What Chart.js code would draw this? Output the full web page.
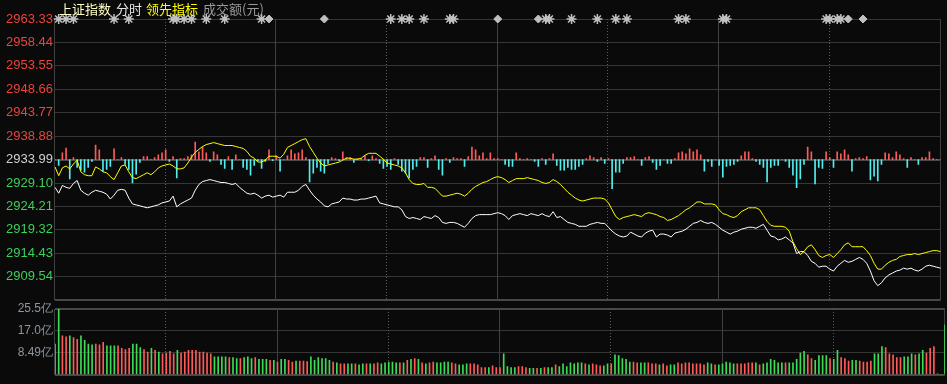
<!DOCTYPE html>
<html>
<head>
<meta charset="utf-8">
<script src="https://cdn.jsdelivr.net/npm/chart.js@4.4.1/dist/chart.umd.min.js"></script>
<style>
  html, body { margin: 0; padding: 0; background: #0a0a0a; }
  #wrap { position: relative; width: 947px; height: 384px; overflow: hidden; background: #0a0a0a; }
  #priceChart { position: absolute; left: 0; top: 0; }
  #volChart { position: absolute; left: 0; top: 296px; }
  .hdr { position: absolute; top: 0; font: 13px "Noto Sans CJK SC", sans-serif; line-height: 17px; white-space: nowrap; }
</style>
</head>
<body>
<div id="wrap">
  <canvas id="priceChart" width="947" height="310"></canvas>
  <canvas id="volChart" width="947" height="88"></canvas>
  <span class="hdr" style="left:59px;color:#ffffc8">上证指数</span>
  <span class="hdr" style="left:116px;color:#e6e6e6">分时</span>
  <span class="hdr" style="left:146px;color:#ffff00">领先指标</span>
  <span class="hdr" style="left:203px;color:#9a9a9a">成交额(元)</span>
</div>
<script>
// previous close and the fixed tick ladder of the price pane
const prevClose = 2933.99;
const priceTicks = [2963.33, 2958.44, 2953.55, 2948.66, 2943.77, 2938.88, 2933.99,
                    2929.10, 2924.21, 2919.32, 2914.43, 2909.54, 2904.65];
const volTicks = [0, 8.49, 16.98, 25.47];
const volTickLabels = ['', '8.49亿', '17.0亿', '25.5亿'];

// 上证指数 per minute
const indexLine = [
  2928.20,2926.98,2928.60,2928.20,2927.99,2929.01,2929.62,2927.59,2926.98,2926.57,
  2927.18,2927.59,2927.38,2927.18,2926.77,2925.76,2926.57,2927.59,2927.79,2927.59,
  2925.96,2924.74,2924.54,2924.34,2924.13,2923.93,2924.13,2924.34,2924.54,2924.95,
  2925.15,2925.35,2926.37,2924.13,2924.74,2925.15,2925.55,2925.96,2927.59,2928.80,
  2929.41,2929.62,2929.82,2929.62,2929.41,2929.21,2929.21,2929.01,2928.80,2929.01,
  2928.20,2927.59,2926.98,2926.77,2926.98,2926.57,2925.96,2926.37,2926.57,2926.16,
  2926.37,2926.57,2926.16,2927.18,2927.18,2927.18,2927.59,2928.40,2928.80,2927.59,
  2926.57,2925.76,2925.15,2924.34,2924.13,2924.74,2924.95,2925.15,2925.96,2925.76,
  2925.76,2925.55,2925.55,2925.76,2925.76,2925.96,2926.16,2926.37,2924.95,2924.74,
  2924.54,2924.34,2924.13,2924.13,2923.52,2922.10,2921.70,2921.90,2921.70,2921.49,
  2922.10,2921.90,2921.70,2922.30,2921.90,2920.88,2920.68,2920.88,2920.88,2920.68,
  2920.27,2919.87,2920.68,2921.70,2922.30,2922.51,2922.51,2922.51,2922.51,2922.71,
  2922.91,2922.71,2922.30,2921.49,2922.30,2922.51,2922.71,2922.51,2922.30,2922.71,
  2922.51,2922.30,2922.71,2922.30,2922.10,2923.12,2921.90,2922.10,2921.49,2920.88,
  2920.68,2920.48,2920.07,2920.07,2920.07,2920.48,2920.68,2920.88,2920.68,2920.68,
  2919.87,2919.06,2918.45,2918.04,2917.84,2918.04,2918.85,2918.45,2918.04,2917.84,
  2918.65,2919.06,2919.26,2917.84,2918.45,2918.45,2918.24,2917.84,2918.65,2918.85,
  2919.06,2919.46,2920.07,2920.68,2920.88,2921.29,2920.88,2920.68,2920.88,2920.48,
  2919.87,2919.26,2918.85,2918.45,2918.85,2919.06,2919.46,2919.66,2919.87,2919.87,
  2919.66,2920.07,2920.48,2919.26,2918.04,2917.84,2917.23,2917.43,2917.84,2917.23,
  2916.62,2914.38,2914.79,2914.79,2913.98,2912.76,2912.35,2911.54,2911.74,2911.74,
  2911.13,2910.73,2911.74,2912.35,2912.96,2912.56,2912.76,2913.17,2913.57,2913.17,
  2912.35,2910.73,2908.70,2907.68,2908.29,2909.31,2909.92,2910.32,2910.73,2910.93,
  2911.34,2911.13,2911.34,2910.93,2910.73,2911.13,2911.74,2911.95,2911.74,2911.54,
  2911.34
];

// 领先指标 per minute
const leadLine = [
  2932.46,2930.63,2932.26,2932.66,2932.05,2933.07,2933.88,2931.44,2930.84,2930.63,
  2930.63,2932.46,2932.05,2931.44,2931.24,2930.43,2929.82,2931.24,2932.66,2932.87,
  2931.44,2930.23,2930.02,2930.43,2930.84,2931.24,2930.84,2931.44,2932.26,2932.66,
  2932.87,2933.07,2932.66,2932.05,2932.05,2932.26,2933.27,2934.49,2935.51,2936.12,
  2936.72,2937.13,2937.33,2937.54,2937.33,2937.13,2936.93,2936.93,2936.93,2936.72,
  2936.52,2936.32,2935.71,2934.69,2934.29,2933.48,2933.48,2933.88,2934.69,2934.69,
  2934.69,2934.29,2935.10,2936.52,2936.93,2937.33,2937.74,2938.15,2938.35,2936.72,
  2935.51,2934.29,2933.27,2932.66,2932.87,2933.07,2933.27,2933.48,2933.88,2934.29,
  2934.29,2934.08,2934.08,2934.29,2934.90,2935.30,2935.30,2935.30,2934.69,2934.08,
  2933.27,2933.07,2932.87,2932.66,2932.26,2931.24,2929.82,2929.01,2928.80,2928.80,
  2929.01,2928.20,2928.20,2927.99,2927.18,2926.37,2926.37,2926.57,2926.77,2926.98,
  2926.77,2926.37,2926.98,2927.79,2928.40,2928.80,2929.21,2929.41,2929.82,2930.23,
  2930.43,2930.23,2929.82,2929.21,2929.62,2930.02,2930.02,2930.02,2930.23,2930.02,
  2929.82,2929.62,2929.21,2929.01,2929.21,2929.82,2929.41,2928.80,2927.99,2927.18,
  2926.57,2925.96,2925.55,2925.35,2925.55,2925.76,2925.96,2925.96,2925.96,2925.76,
  2924.95,2923.52,2922.10,2921.49,2921.90,2922.10,2922.30,2922.51,2922.30,2922.10,
  2922.71,2922.91,2922.71,2922.51,2922.10,2921.90,2921.29,2921.49,2921.90,2922.30,
  2922.91,2923.52,2923.93,2924.54,2925.15,2925.15,2924.74,2924.74,2924.74,2924.54,
  2923.52,2922.71,2922.51,2922.10,2921.90,2922.30,2923.12,2923.52,2923.93,2923.93,
  2923.93,2923.52,2922.30,2921.09,2920.27,2920.07,2920.07,2920.07,2919.87,2919.06,
  2916.82,2915.40,2914.18,2914.79,2915.81,2916.21,2915.20,2913.98,2913.57,2913.98,
  2914.18,2913.57,2914.38,2915.20,2916.21,2916.62,2915.81,2915.81,2915.81,2915.81,
  2914.99,2913.98,2912.35,2911.13,2911.13,2911.95,2912.56,2912.96,2913.17,2913.77,
  2913.98,2914.18,2914.18,2914.38,2914.18,2914.38,2914.59,2914.79,2914.99,2914.99,
  2914.79
];

// red / cyan strength bars around the previous close
const strength = [
  0,-6,7,12,-20,2,-8,-11,-13,-8,
  -2,15,10,-12,-10,-7,11,0,2,-5,
  -10,-24,-15,-3,3,3,0,2,5,7,
  10,-2,3,-19,1,1,3,5,18,8,
  13,7,-2,8,5,-5,-9,3,-10,5,
  0,-8,-10,-16,-6,-1,-9,-2,10,-1,
  4,-12,0,4,10,6,7,10,2,-23,
  -14,-8,-12,-14,-4,2,1,-1,8,2,
  2,-3,1,1,4,-1,4,1,-4,-9,
  -7,-10,1,-5,-12,-14,-19,-10,-7,2,
  2,-8,1,4,-10,-16,1,-3,2,1,
  1,-7,3,13,10,4,7,1,7,1,
  1,0,-5,-7,-7,7,1,0,1,0,
  -2,-7,1,-5,1,6,-6,-11,-11,-8,
  -10,-10,-7,-5,1,4,2,-2,2,-4,
  1,-30,-13,-13,-4,2,2,3,0,-6,
  2,3,-3,-10,-6,0,-4,-4,1,7,
  8,6,11,8,10,5,-12,-2,-7,0,
  -6,-18,-7,-6,-5,-2,4,8,8,1,
  -2,-5,-8,-23,-8,-6,-6,0,-2,-8,
  -16,-29,-20,-5,13,8,-25,-8,-9,8,
  2,-8,8,6,10,5,-12,1,2,1,
  3,-21,-17,-22,-5,7,6,2,8,5,
  1,-8,2,0,-5,2,2,8,1,0,
  0
];

// 成交额 per minute, 亿元
const volume = [
  11.9,25.47,15.1,14.7,15.1,14.4,13.7,15.1,13.3,11.9,
  11.6,11.9,11.6,12.6,11.2,11.2,11.2,11.2,10.2,9.8,
  10.2,11.9,11.9,10.5,9.8,8.8,10.2,9.5,8.8,8.1,
  8.4,9.1,8.1,9.5,8.4,8.8,9.5,9.5,9.5,8.8,
  8.8,8.4,8.1,7.0,7.0,7.0,7.0,6.7,6.7,6.3,
  6.3,6.7,7.0,6.3,6.7,6.0,6.0,6.0,5.6,5.6,
  4.9,6.0,6.0,5.6,4.9,5.3,5.3,5.3,5.1,7.0,
  5.6,6.7,6.3,6.3,5.6,4.9,4.6,4.2,4.2,4.2,
  4.2,4.2,3.9,4.2,4.2,4.2,4.2,4.6,4.2,4.6,
  4.9,4.9,4.6,4.6,4.6,5.6,6.0,6.3,6.0,4.6,
  4.2,4.6,4.9,4.6,4.6,4.9,4.9,4.6,4.2,3.9,
  3.9,4.2,4.2,4.2,3.9,2.8,2.8,2.8,3.5,2.8,
  2.8,8.1,3.2,2.8,2.8,3.2,3.2,2.8,2.5,2.5,
  2.5,2.5,2.8,2.8,2.8,3.9,3.2,4.2,3.2,4.6,
  4.2,4.6,4.6,4.2,3.9,4.2,3.9,3.5,3.5,4.2,
  4.2,7.7,7.4,6.3,6.0,4.9,4.9,4.6,4.6,4.6,
  4.6,4.2,4.2,3.9,4.2,3.5,3.9,3.9,4.6,4.2,
  4.6,4.6,4.2,4.2,4.2,3.9,4.6,4.2,3.9,3.9,
  4.2,4.9,4.6,4.2,4.2,4.2,4.2,4.6,4.6,4.6,
  3.9,4.2,4.6,6.0,5.6,4.6,4.6,4.6,4.6,4.6,
  6.0,8.4,9.1,7.7,6.3,5.6,7.4,7.4,7.4,6.3,
  6.0,9.5,6.7,6.3,5.3,5.6,5.6,5.3,4.9,4.9,
  5.3,8.1,8.1,10.9,10.5,8.1,7.7,6.7,6.7,7.0,
  7.0,8.1,7.7,8.1,9.5,8.4,10.2,10.9,0.4,0,
  19.3
];

// 1 = red (up) bar, 0 = green (down) bar
const volUp = [
  0,0,1,1,0,1,1,0,0,0, 0,1,1,1,0,0,0,1,1,1, 1,0,0,0,1,1,0,1,0,1,
  1,1,1,0,1,1,1,1,1,1, 1,1,1,0,0,0,0,1,0,0, 1,0,0,0,1,0,0,0,1,0,
  1,0,0,1,1,0,1,1,1,0, 0,0,0,0,0,1,0,1,1,0, 0,1,0,0,1,0,1,1,0,0,
  0,0,0,1,0,1,0,1,0,1, 0,1,1,0,0,0,0,1,1,0, 0,0,1,1,1,1,1,0,1,1,
  1,0,0,0,0,1,1,1,0,0, 1,0,1,0,0,1,0,0,0,0, 0,0,0,1,0,1,1,1,0,0,
  1,0,0,0,0,0,1,1,0,0, 1,1,1,0,1,1,0,0,1,1, 1,1,1,1,1,1,0,0,1,0,
  0,0,0,0,1,1,1,1,1,0, 1,0,0,0,0,0,0,1,0,0, 0,0,0,1,1,0,0,0,0,1,
  0,0,1,1,1,0,0,1,1,1, 1,0,0,0,1,1,1,1,1,0, 0,0,1,0,0,1,1,1,0,0,
  0
];

// minutes that carry a news marker on the top line
const starWide = [1,3,5,16,20,32,33,35,37,41,46,56,91,94,96,100,107,108,133,134,
                  140,147,152,155,169,171,181,182,209,210,212,213];
const starNarrow = [58,73,120,131,215,219];

const RED = '#ff5a5a', CYAN = '#52eeee', GREEN = '#3ddc55';
const GRID = '#363636';

// time labels 09:30 - 11:30, 13:01 - 15:00
const minutes = [];
for (let i = 0; i <= 240; i++) {
  let t = i <= 120 ? 9 * 60 + 30 + i : 13 * 60 + (i - 120);
  minutes.push(String(Math.floor(t / 60)).padStart(2, '0') + ':' + String(t % 60).padStart(2, '0'));
}

const topLine = priceTicks[0];
const wideMarks = minutes.map((m, i) => starWide.includes(i) ? topLine : null);
const narrowMarks = minutes.map((m, i) => starNarrow.includes(i) ? topLine : null);

// session grid: solid on the hour marks, dotted on the half hours
const sessionLines = {
  id: 'sessionLines',
  beforeDatasetsDraw(chart) {
    const { ctx, chartArea, scales } = chart;
    ctx.save();
    ctx.lineWidth = 1;
    [0, 30, 60, 90, 120, 150, 180, 210, 240].forEach(function(m) {
      const px = Math.round(scales.x.getPixelForValue(m)) - 0.5;
      const dotted = m % 60 === 30;
      ctx.strokeStyle = dotted ? '#5a5a5a' : '#404040';
      ctx.setLineDash(dotted ? [1, 2] : []);
      ctx.beginPath();
      ctx.moveTo(px, chartArea.top);
      ctx.lineTo(px, chartArea.bottom);
      ctx.stroke();
    });
    ctx.restore();
  }
};

Chart.defaults.font.family = '"Liberation Sans", Arial, sans-serif';

const priceChart = new Chart(document.getElementById('priceChart'), {
  type: 'line',
  data: {
    labels: minutes,
    datasets: [
      {
        type: 'bar',
        label: '强弱',
        data: strength,
        yAxisID: 'yStr',
        backgroundColor: strength.map(v => v >= 0 ? RED : CYAN),
        barThickness: 1,
        order: 4
      },
      {
        label: '领先指标',
        data: leadLine,
        borderColor: '#ffff00',
        borderWidth: 1,
        pointRadius: 0,
        tension: 0,
        order: 3
      },
      {
        label: '上证指数',
        data: indexLine,
        borderColor: '#ffffff',
        borderWidth: 1,
        pointRadius: 0,
        tension: 0,
        order: 2
      },
      {
        label: 'news',
        data: wideMarks,
        showLine: false,
        pointStyle: 'star',
        pointRadius: 5,
        borderWidth: 1.5,
        borderColor: '#c0c0c0',
        clip: false,
        order: 1
      },
      {
        label: 'news2',
        data: wideMarks,
        showLine: false,
        pointStyle: 'rect',
        pointRadius: 3,
        borderWidth: 0,
        backgroundColor: '#c0c0c0',
        clip: false,
        order: 1
      },
      {
        label: 'news3',
        data: narrowMarks,
        showLine: false,
        pointStyle: 'rectRot',
        pointRadius: 4,
        borderWidth: 1,
        borderColor: '#c0c0c0',
        backgroundColor: '#c0c0c0',
        clip: false,
        order: 1
      }
    ]
  },
  options: {
    responsive: false,
    animation: false,
    events: [],
    layout: { padding: { top: 19, right: 2, bottom: 2, left: 0 } },
    scales: {
      x: { display: false, offset: false },
      y: {
        min: priceTicks[priceTicks.length - 1],
        max: priceTicks[0],
        afterBuildTicks: function(scale) {
          scale.ticks = priceTicks.map(v => ({ value: v }));
        },
        afterFit: function(scale) { scale.width = 55; },
        border: { display: false },
        grid: {
          drawTicks: false,
          color: c => (c.tick && c.tick.value === priceTicks[12]) ? '#484848' : (c.tick && c.tick.value === prevClose ? '#4a4a4a' : GRID),
          lineWidth: c => (c.tick && (c.tick.value === priceTicks[12] || c.tick.value === prevClose)) ? 2 : 1
        },
        ticks: {
          padding: 2,
          font: { size: 13 },
          color: c => c.tick.value > prevClose ? '#e8453c' : (c.tick.value < prevClose ? '#3ccf5a' : '#d0d0d0'),
          callback: function(value) {
            return value === priceTicks[12] ? '' : value.toFixed(2);
          }
        }
      },
      yStr: { display: false, min: -145, max: 145 }
    },
    plugins: { legend: { display: false }, tooltip: { enabled: false } }
  },
  plugins: [sessionLines]
});

const volChart = new Chart(document.getElementById('volChart'), {
  type: 'bar',
  data: {
    labels: minutes,
    datasets: [{
      label: '成交额',
      data: volume,
      backgroundColor: volUp.map(u => u ? RED : GREEN),
      barThickness: 1
    }]
  },
  options: {
    responsive: false,
    animation: false,
    events: [],
    layout: { padding: { top: 13, right: 2, bottom: 2, left: 0 } },
    scales: {
      x: { display: false, offset: false },
      y: {
        min: 0,
        max: volTicks[3],
        afterBuildTicks: function(scale) {
          scale.ticks = volTicks.map(v => ({ value: v }));
        },
        afterFit: function(scale) { scale.width = 55; },
        border: { display: false },
        grid: {
          drawTicks: false,
          color: c => (c.index === 0 || c.index === 3) ? '#484848' : GRID,
          lineWidth: c => (c.index === 0 || c.index === 3) ? 2 : 1
        },
        ticks: {
          padding: 2,
          font: { size: 12 },
          color: '#8d969e',
          callback: function(value, index) { return volTickLabels[index]; }
        }
      }
    },
    plugins: { legend: { display: false }, tooltip: { enabled: false } }
  },
  plugins: [sessionLines]
});
</script>
</body>
</html>
